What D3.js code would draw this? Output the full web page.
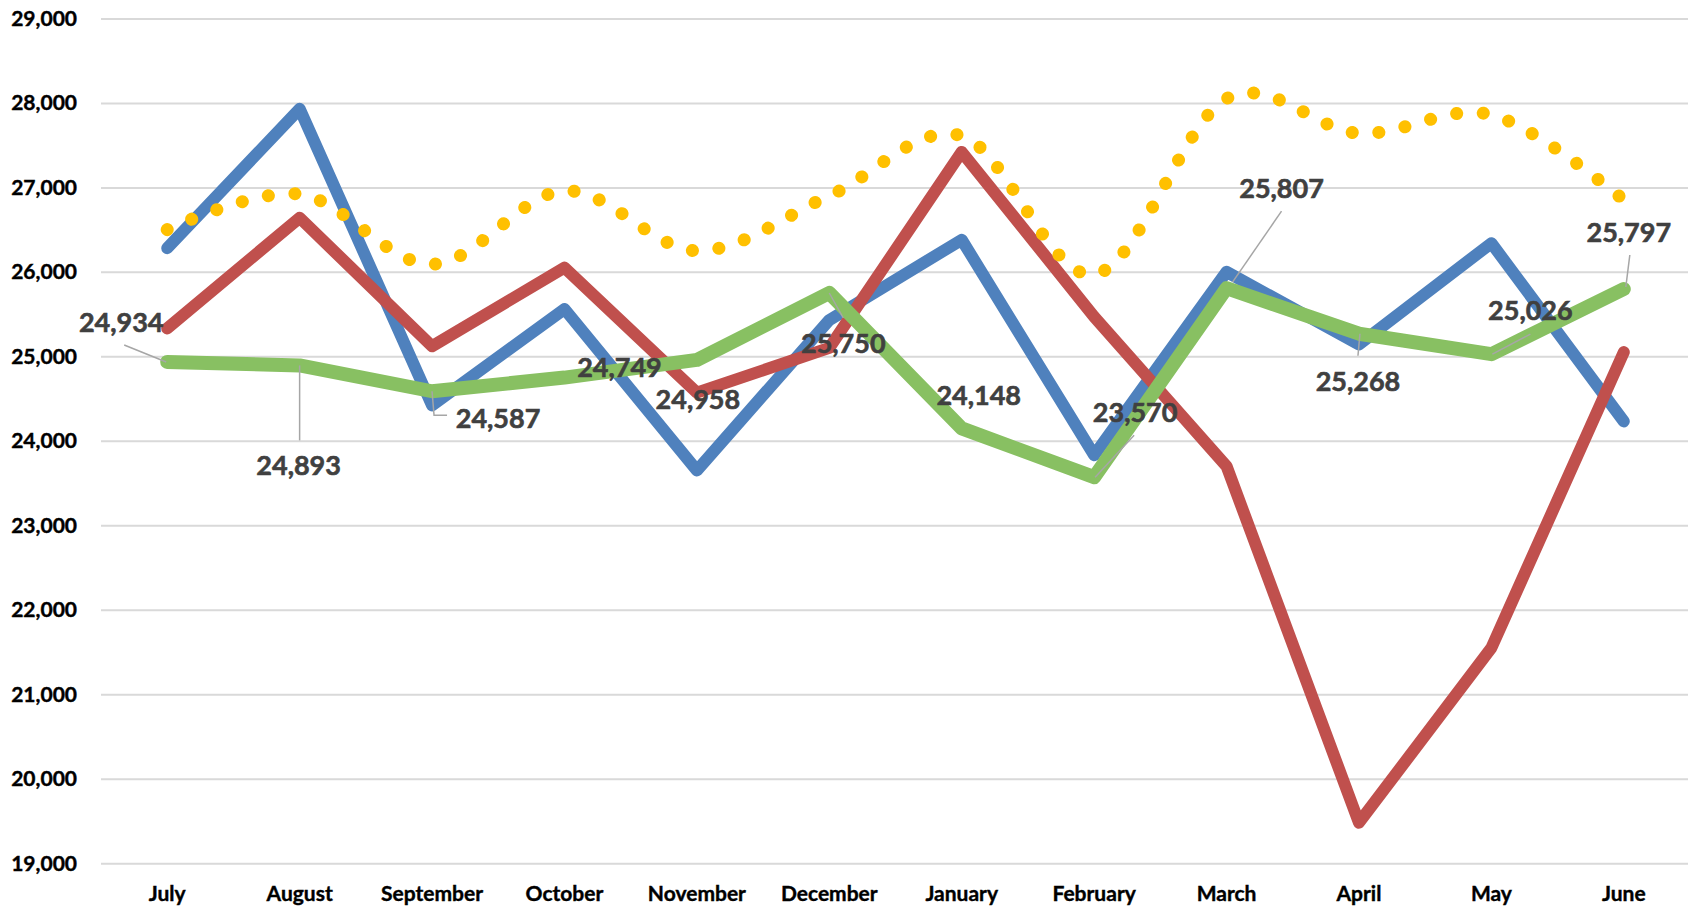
<!DOCTYPE html>
<html>
<head>
<meta charset="utf-8">
<script src="https://cdn.jsdelivr.net/npm/d3@7"></script>
<style>
  html, body { margin: 0; padding: 0; background: #ffffff; }
  svg { display: block; }
</style>
</head>
<body>
<svg id="chart" width="1688" height="908"></svg>
<script>
// ---------- data ----------
const months = ["July", "August", "September", "October", "November", "December",
                "January", "February", "March", "April", "May", "June"];
const yTicks = [19000, 20000, 21000, 22000, 23000, 24000, 25000, 26000, 27000, 28000, 29000];
const blueValues   = [26280, 27930, 24420, 25560, 23650, 25430, 26380, 23830, 26000, 25140, 26340, 24230];
const redValues    = [25330, 26640, 25120, 26050, 24570, 25100, 27420, 25470, 23700, 19480, 21550, 25050];
const yellowValues = [26500, 26920, 26090, 26960, 26250, 26900, 27610, 25970, 28050, 27640, 27860, 26850];
const greenValues  = [24934, 24893, 24587, 24749, 24958, 25750, 24148, 23570, 25807, 25268, 25026, 25797];

// ---------- layout (label placement relative to each green point) ----------
const labelOffsets = [
  {dx: -46, dy: -40, leader: [[-1, 0], [-43, -17]]},
  {dx: -1,  dy: 100, leader: [[0, 0], [0, 75]]},
  {dx: 66,  dy: 27,  leader: [[0, 0], [2, 24], [15, 24]]},
  {dx: 55,  dy: -10, leader: null},
  {dx: 1,   dy: 39,  leader: null},
  {dx: 14,  dy: 50,  leader: [[0, 0], [14, 25]]},
  {dx: 17,  dy: -33, leader: null},
  {dx: 41,  dy: -65, leader: [[1, 0], [40, -42]]},
  {dx: 55,  dy: -100, leader: [[6, -6], [55, -77]]},
  {dx: -1,  dy: 48,  leader: [[1, 0], [-1, 22]]},
  {dx: 39,  dy: -44, leader: [[1, 0], [39, -20]]},
  {dx: 5,   dy: -57, leader: [[2, -2], [6, -34]]}
];

// ---------- chart ----------
const plotLeft = 101, plotRight = 1690, plotTop = 18.4, plotBottom = 863.3;
const svg = d3.select("#chart");
const FONT = "Lato, 'Open Sans', 'DejaVu Sans', sans-serif";

const x = d3.scaleBand().domain(months).range([plotLeft, plotRight]);
const xc = m => x(m) + x.bandwidth() / 2;
const y = d3.scaleLinear().domain([19000, 29000]).range([plotBottom, plotTop]);

// gridlines + y labels
const yAxis = d3.axisLeft(y)
  .tickValues(yTicks)
  .tickFormat(d3.format(","))
  .tickSize(-(plotRight - plotLeft))
  .tickPadding(24);
const gy = svg.append("g").attr("transform", `translate(${plotLeft},0)`).call(yAxis);
gy.select(".domain").remove();
gy.selectAll(".tick line").attr("stroke", "#d9d9d9").attr("stroke-width", 2);
gy.selectAll(".tick text")
  .attr("font-family", FONT).attr("font-weight", 700).attr("font-size", 21)
  .attr("fill", "#000").attr("stroke", "#000").attr("stroke-width", 0.4);

// x labels
const xAxis = d3.axisBottom(x).tickSize(0).tickPadding(23);
const gx = svg.append("g").attr("transform", `translate(0,${plotBottom})`).call(xAxis);
gx.select(".domain").remove();
gx.selectAll(".tick text")
  .attr("font-family", FONT).attr("font-weight", 700).attr("font-size", 21)
  .attr("fill", "#000").attr("stroke", "#000").attr("stroke-width", 0.4);

// lines
const straight = d3.line().x((d, i) => xc(months[i])).y(d => y(d));
const smooth = d3.line().x((d, i) => xc(months[i])).y(d => y(d)).curve(d3.curveCatmullRom.alpha(0));

svg.append("path").datum(blueValues).attr("d", straight)
  .attr("fill", "none").attr("stroke", "#4f81bd").attr("stroke-width", 12)
  .attr("stroke-linejoin", "round").attr("stroke-linecap", "round");

svg.append("path").datum(redValues).attr("d", straight)
  .attr("fill", "none").attr("stroke", "#c0504d").attr("stroke-width", 12)
  .attr("stroke-linejoin", "round").attr("stroke-linecap", "round");

svg.append("path").datum(yellowValues).attr("d", smooth)
  .attr("fill", "none").attr("stroke", "#ffc000").attr("stroke-width", 13)
  .attr("stroke-linecap", "round").attr("stroke-dasharray", "0.1 26.6");

svg.append("path").datum(greenValues).attr("d", straight)
  .attr("fill", "none").attr("stroke", "#88c062").attr("stroke-width", 14)
  .attr("stroke-linejoin", "round").attr("stroke-linecap", "round");

// leader lines
const leaderLine = d3.line();
greenValues.forEach((v, i) => {
  const o = labelOffsets[i];
  if (!o.leader) return;
  const px = xc(months[i]), py = y(v);
  svg.append("path")
    .attr("d", leaderLine(o.leader.map(p => [px + p[0], py + p[1]])))
    .attr("fill", "none").attr("stroke", "#a6a6a6").attr("stroke-width", 1.5);
});

// data labels
svg.append("g").selectAll("text").data(greenValues).join("text")
  .attr("x", (d, i) => xc(months[i]) + labelOffsets[i].dx)
  .attr("y", (d, i) => y(d) + labelOffsets[i].dy)
  .attr("dy", "0.36em")
  .attr("text-anchor", "middle")
  .attr("font-family", FONT).attr("font-weight", 700).attr("font-size", 27)
  .attr("fill", "#404040").attr("stroke", "#404040").attr("stroke-width", 0.6)
  .text(d => d3.format(",")(d));
</script>
</body>
</html>
